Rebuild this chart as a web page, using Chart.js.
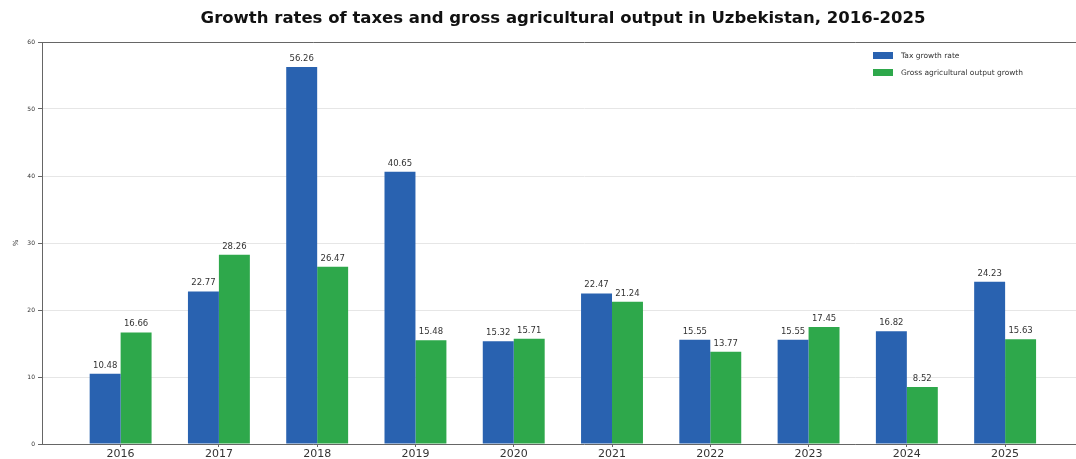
<!DOCTYPE html>
<html>
<head>
<meta charset="utf-8">
<script src="https://cdn.jsdelivr.net/npm/chart.js@4"></script>
<style>
  html, body { margin: 0; padding: 0; background: #fff; overflow: hidden; }
  #wrap { width: 1076px; height: 459px; overflow: hidden; }
</style>
</head>
<body>
<div id="wrap"><canvas id="growthchart" width="1126" height="459"></canvas></div>
<script>
const years = ['2016', '2017', '2018', '2019', '2020', '2021', '2022', '2023', '2024', '2025'];
const taxGrowth = [10.48, 22.77, 56.26, 40.65, 15.32, 22.47, 15.55, 15.55, 16.82, 24.23];
const agriGrowth = [16.66, 28.26, 26.47, 15.48, 15.71, 21.24, 13.77, 17.45, 8.52, 15.63];
const yTicks = [0, 10, 20, 30, 40, 50, 60];

const blue = '#2962b0';
const green = '#2ea84b';

function points(values) {
    return values.map((v, i) => ({ x: i, y: v }));
}

// value labels above every bar
const barLabels = {
    id: 'barLabels',
    afterDatasetsDraw(chart) {
        const ctx = chart.ctx;
        ctx.save();
        ctx.font = '8.5px "DejaVu Sans"';
        ctx.fillStyle = '#333';
        ctx.textAlign = 'center';
        ctx.textBaseline = 'bottom';
        chart.data.datasets.forEach((ds, d) => {
            chart.getDatasetMeta(d).data.forEach((bar, i) => {
                ctx.fillText(ds.data[i].y.toFixed(2), bar.x, bar.y - 4);
            });
        });
        ctx.restore();
    }
};

// legend sits inside the plot, upper right
const innerLegend = {
    id: 'innerLegend',
    afterDraw(chart) {
        const ctx = chart.ctx;
        const area = chart.chartArea;
        const x0 = 873;
        ctx.save();
        ctx.font = '7.5px "DejaVu Sans"';
        ctx.textBaseline = 'middle';
        chart.data.datasets.forEach((ds, d) => {
            const y = area.top + 14 + d * 17;
            ctx.fillStyle = ds.backgroundColor;
            ctx.fillRect(x0, y - 4, 20, 7);
            ctx.fillStyle = '#333';
            ctx.fillText(ds.label, x0 + 28, y);
        });
        ctx.restore();
    }
};

const data = {
    datasets: [
        {
            label: 'Tax growth rate',
            data: points(taxGrowth),
            backgroundColor: blue,
            categoryPercentage: 0.63,
            barPercentage: 1
        },
        {
            label: 'Gross agricultural output growth',
            data: points(agriGrowth),
            backgroundColor: green,
            categoryPercentage: 0.63,
            barPercentage: 1
        }
    ]
};

const config = {
    type: 'bar',
    data: data,
    plugins: [barLabels, innerLegend],
    options: {
        responsive: false,
        animation: false,
        layout: {
            padding: 0
        },
        plugins: {
            legend: { display: false },
            tooltip: { enabled: false },
            title: {
                display: true,
                text: 'Growth rates of taxes and gross agricultural output in Uzbekistan, 2016-2025',
                color: '#111',
                font: { family: 'DejaVu Sans', size: 16.5, weight: 'bold' },
                padding: { top: 9, bottom: 13.2 }
            }
        },
        scales: {
            x: {
                type: 'linear',
                offset: false,
                min: -0.8,
                max: 10.23,
                afterBuildTicks(scale) {
                    scale.ticks = years.map((_, i) => ({ value: i }));
                },
                afterFit(scale) {
                    scale.height = 15;
                },
                ticks: {
                    callback: (v) => years[v],
                    color: '#333',
                    font: { family: 'DejaVu Sans', size: 11 },
                    padding: 1,
                    maxRotation: 0,
                    autoSkip: false
                },
                grid: {
                    offset: false,
                    drawOnChartArea: false,
                    drawTicks: true,
                    tickLength: 3,
                    color: '#666'
                },
                border: { color: '#666', width: 1 }
            },
            y: {
                min: 0,
                max: 60,
                afterBuildTicks(scale) {
                    scale.ticks = yTicks.map(v => ({ value: v }));
                },
                afterFit(scale) {
                    scale.width = 42;
                },
                title: {
                    display: true,
                    text: '%',
                    color: '#333',
                    font: { family: 'DejaVu Sans', size: 7 },
                    padding: { top: 12, bottom: 0 }
                },
                ticks: {
                    color: '#333',
                    font: { family: 'DejaVu Sans', size: 6 },
                    padding: 3
                },
                grid: {
                    color: (c) => c.tick && c.tick.value === 60 ? '#666' : '#e6e6e6',
                    lineWidth: 1,
                    tickLength: 4,
                    tickColor: '#666'
                },
                border: { color: '#666', width: 1 }
            }
        }
    }
};

const ctx = document.getElementById('growthchart').getContext('2d');
const chart = new Chart(ctx, config);
</script>
</body>
</html>
